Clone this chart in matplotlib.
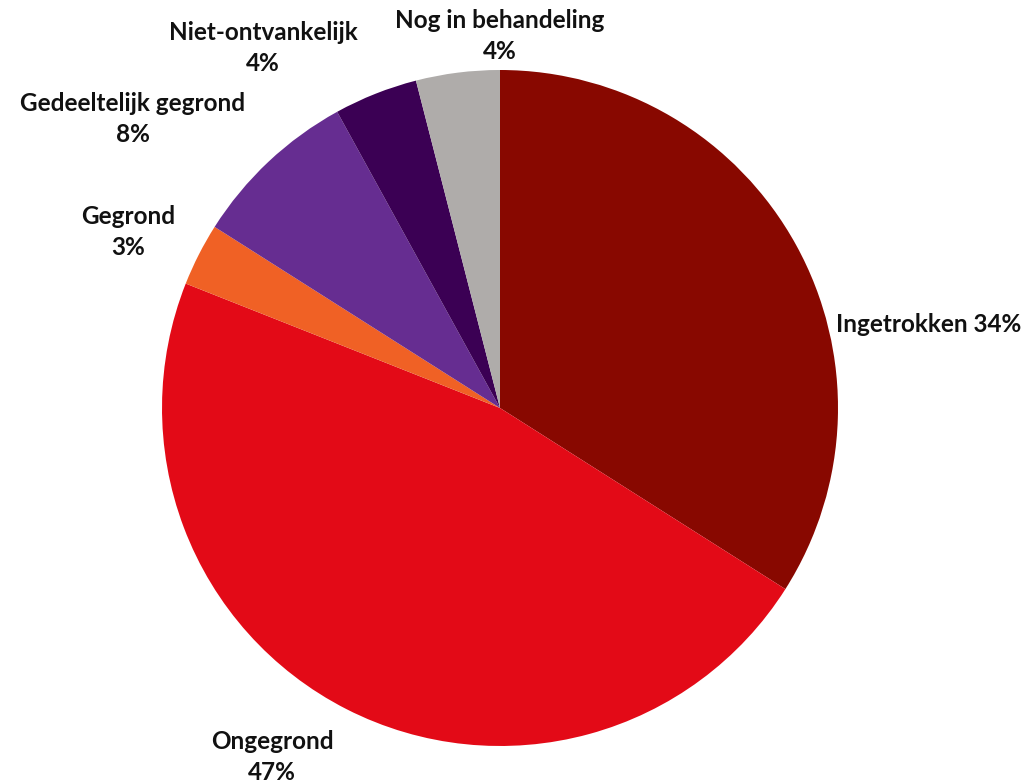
import matplotlib
matplotlib.use("Agg")
import matplotlib.pyplot as plt

categories = ["Ingetrokken", "Ongegrond", "Gegrond", "Gedeeltelijk gegrond",
              "Niet-ontvankelijk", "Nog in behandeling"]
values = [34, 47, 3, 8, 4, 4]
colors = ["#880800", "#E30A17", "#F06125", "#662D91", "#3B0054", "#AFACAA"]

W, H = 1030, 782
fig = plt.figure(figsize=(W / 100, H / 100), dpi=100)
cx, cy, r = 500, 408, 338
ax = fig.add_axes([(cx - r) / W, (H - cy - r) / H, 2 * r / W, 2 * r / H])
ax.pie(values, colors=colors, startangle=90, counterclock=False,
       wedgeprops=dict(linewidth=0))
ax.set_xlim(-1, 1)
ax.set_ylim(-1, 1)
ax.set_aspect("equal")
ax.axis("off")

total = sum(values)
pct = [f"{round(v / total * 100)}%" for v in values]

fp = dict(family=["Lato", "DejaVu Sans"], fontweight="bold", fontsize=17.5,
          color="#111111", linespacing=1.42)

def lab(x, y, s, ha="center"):
    fig.text(x / W, 1 - y / H, s, ha=ha, va="center", **fp)

lab(836, 324, f"{categories[0]} {pct[0]}", ha="left")
lab(272, 757, f"{categories[1]}\n{pct[1]}")
lab(128, 232, f"{categories[2]}\n{pct[2]}")
lab(133, 119, f"{categories[3]}\n{pct[3]}")
lab(263, 48, f"{categories[4]}\n{pct[4]}")
lab(500, 36, f"{categories[5]}\n{pct[5]}")

fig.savefig("out.png", dpi=100, facecolor="white")
